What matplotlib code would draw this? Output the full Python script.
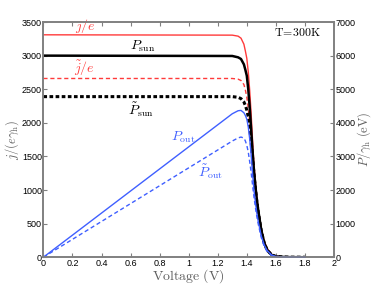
import matplotlib
matplotlib.use("Agg")
import matplotlib.pyplot as plt
import numpy as np

plt.rcParams['font.family'] = ['Liberation Sans', 'DejaVu Sans']
plt.rcParams['mathtext.fontset'] = 'cm'

# voltage grid (V), shared by all curves
volt = [0, 1.30, 1.34, 1.36, 1.38, 1.39, 1.40, 1.41, 1.42, 1.43, 1.44, 1.45,
        1.46, 1.47, 1.48, 1.50, 1.52, 1.54, 1.57, 1.60, 1.65, 1.70, 1.80]

# left axis: j/(e gamma_h)
j_e = [3310, 3305, 3290, 3260, 3170, 3070, 2960, 2760, 2480, 2130, 1720, 1360,
       1100, 880, 700, 420, 240, 130, 45, 15, 5, 2, 0]
j_e_t = [2660, 2660, 2650, 2630, 2570, 2490, 2380, 2220, 2000, 1760, 1480, 1220,
         1000, 810, 650, 385, 210, 108, 36, 12, 4, 1, 0]
p_sun = [3000, 2995, 2975, 2950, 2870, 2790, 2700, 2500, 2230, 1900, 1560, 1270,
         1040, 840, 680, 400, 215, 110, 35, 12, 4, 1, 0]
p_sun_t = [2390, 2390, 2380, 2360, 2310, 2260, 2190, 2090, 1930, 1720, 1470, 1220,
           1000, 810, 650, 385, 210, 108, 36, 12, 4, 1, 0]

# right axis: P/gamma_h (eV)
p_out = [0, 4270, 4360, 4370, 4300, 4220, 4110, 3880, 3520, 3046, 2477, 1972,
         1606, 1294, 1036, 630, 365, 200, 71, 24, 8, 3, 0]
p_out_t = [0, 3458, 3551, 3577, 3547, 3461, 3332, 3130, 2840, 2517, 2131, 1769,
           1460, 1191, 962, 578, 319, 166, 55, 19, 6, 2, 0]

xticks = [0, 0.2, 0.4, 0.6, 0.8, 1, 1.2, 1.4, 1.6, 1.8, 2]
xlabels = ['0', '0.2', '0.4', '0.6', '0.8', '1', '1.2', '1.4', '1.6', '1.8', '2']

red = '#ff3a3a'
blue = '#3f5fff'
grey = '#808080'

fig = plt.figure(figsize=(3.74, 2.90), dpi=100)
ax = fig.add_axes([0.116, 0.113, 0.777, 0.811])
ax2 = ax.twinx()

ax.plot(volt, j_e, color=red, lw=1.0)
ax.plot(volt, j_e_t, color=red, lw=1.0, ls=(0, (3, 2)))
ax.plot(volt, p_sun, color='black', lw=1.8)
ax.plot(volt, p_sun_t, color='black', lw=2.2, ls=(0, (1.2, 0.8)))
ax2.plot(volt, p_out, color=blue, lw=1.0, clip_on=False)
ax2.plot(volt, p_out_t, color=blue, lw=1.0, ls=(0, (3, 2)), clip_on=False)

ax.set_xlim(0, 2)
ax.set_ylim(0, 3500)
ax2.set_ylim(0, 7000)
ax.set_xticks(xticks)
ax.set_xticklabels(xlabels)
ax.set_yticks(np.arange(0, 3501, 500))
ax2.set_yticks(np.arange(0, 7001, 1000))

for a in (ax, ax2):
    for s in a.spines.values():
        s.set_color(grey)
        s.set_linewidth(1.2)
    a.tick_params(direction='in', length=3, width=0.8, color=grey,
                  labelsize=6.5, pad=1)
ax.tick_params(top=True)
ax2.tick_params(left=False)

ax.set_xlabel(r'$\rm Voltage\ (V)$', fontsize=10, color='#606060', labelpad=0)
ax.set_ylabel(r'$j/(e\gamma_{\rm h})$', fontsize=9, color='#606060', labelpad=1)
ax2.set_ylabel(r'$P/\gamma_{\rm h}\ \rm (eV)$', fontsize=9, color='#606060', labelpad=0)

ax.text(0.29, 3300, r'$j/e$', color=red, fontsize=10, ha='center', va='bottom')
ax.text(0.68, 3020, r'$P_{\rm sun}$', color='black', fontsize=10, ha='center', va='bottom')
ax.text(0.28, 2670, r'$\tilde{j}/e$', color=red, fontsize=10, ha='center', va='bottom')
ax.text(0.67, 2340, r'$\tilde{P}_{\rm sun}$', color='black', fontsize=10, ha='center', va='top')
ax.text(0.96, 1790, r'$P_{\rm out}$', color=blue, fontsize=10, ha='center', va='center')
ax.text(1.15, 1280, r'$\tilde{P}_{\rm out}$', color=blue, fontsize=10, ha='center', va='center')
ax.text(1.91, 3330, r'$\rm T\!=\!300K$', color='black', fontsize=8.5, ha='right', va='center')

fig.savefig('out.png', dpi=100)
